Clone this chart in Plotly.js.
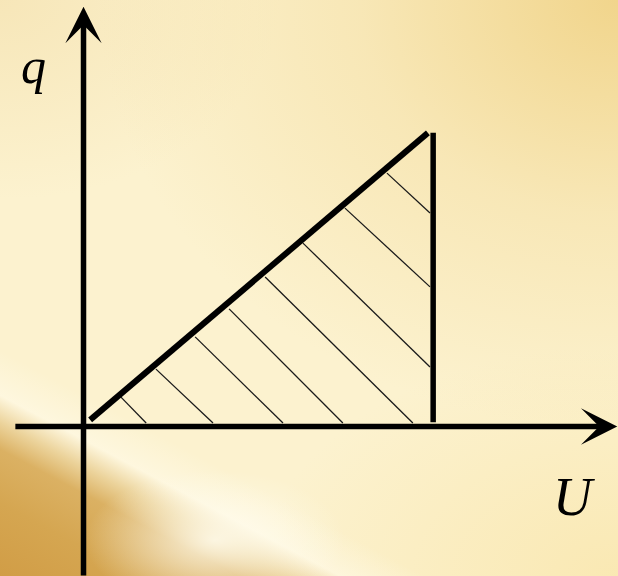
<!DOCTYPE html>
<html>
<head>
<meta charset="utf-8">
<script src="https://cdn.plot.ly/plotly-3.0.1.min.js"></script>
<style>
  html, body { margin: 0; padding: 0; width: 618px; height: 576px; overflow: hidden; }
  #bg {
    position: absolute; left: 0; top: 0; width: 618px; height: 576px;
    background:
      radial-gradient(ellipse 130px 70px at 215px 540px, rgba(255,252,238,0.85) 0%, rgba(255,252,238,0) 100%),
      linear-gradient(28deg, #d19d46 0%, #d5a651 8%, #dbb163 14%, rgba(234,208,150,0.9) 17%, rgba(255,250,232,0.6) 20%, rgba(255,250,232,0) 25%),
      radial-gradient(ellipse 520px 430px at 618px 0px, rgba(241,213,140,1) 0%, rgba(245,224,166,0.6) 50%, rgba(250,236,190,0) 100%),
      radial-gradient(ellipse 280px 200px at 0px 0px, rgba(246,229,182,0.9) 0%, rgba(250,238,200,0) 100%),
      radial-gradient(ellipse 360px 230px at 618px 576px, rgba(249,230,172,0.8) 0%, rgba(250,235,185,0) 100%),
      #fcf2cf;
  }
  #chart { position: absolute; left: 0; top: 0; width: 618px; height: 576px; }
</style>
</head>
<body>
<div id="bg"></div>
<div id="chart"></div>
<script>
// Diagram values (U on horizontal axis, q on vertical axis)
var diagU = [0.19, 9.84];
var diagQ = [0.19, 8.39];
var wallU = [9.99, 9.99];
var wallQ = [8.39, 0.12];

// Hatching: start on the slanted line, end on the U axis or the vertical line
var hatchStartU = [1.07, 2.07, 3.19, 4.16, 5.19, 6.27, 7.47, 8.67];
var hatchStartQ = [0.84, 1.64, 2.56, 3.36, 4.27, 5.24, 6.24, 7.24];
var hatchEndU   = [1.79, 3.70, 5.70, 7.41, 9.41, 9.90, 9.90, 9.90];
var hatchEndQ   = [0.10, 0.10, 0.10, 0.10, 0.10, 1.70, 3.99, 6.10];

// Axis extents
var uAxisFrom = -1.99, uAxisTip = 15.25;
var qAxisFrom = -4.30, qAxisTip = 11.99;
var xLabel = 'U', yLabel = 'q';

var hU = [], hQ = [];
for (var i = 0; i < hatchStartU.length; i++) {
  hU.push(hatchStartU[i], hatchEndU[i], null);
  hQ.push(hatchStartQ[i], hatchEndQ[i], null);
}

var traces = [
  { x: hU, y: hQ, mode: 'lines', line: { color: '#1a1a1a', width: 1.3 }, hoverinfo: 'skip', connectgaps: false },
  { x: diagU, y: diagQ, mode: 'lines', line: { color: '#000', width: 6 }, hoverinfo: 'skip' },
  { x: wallU, y: wallQ, mode: 'lines', line: { color: '#000', width: 5.5 }, hoverinfo: 'skip' }
];

var serif = 'Liberation Serif, Times New Roman, serif';
var layout = {
  width: 618, height: 576,
  margin: { l: 0, r: 0, t: 0, b: 0 },
  paper_bgcolor: 'rgba(0,0,0,0)',
  plot_bgcolor: 'rgba(0,0,0,0)',
  showlegend: false,
  xaxis: { range: [-2.386, 15.271], visible: false, fixedrange: true },
  yaxis: { range: [-4.271, 12.186], visible: false, fixedrange: true },
  annotations: [
    { x: uAxisTip, y: 0, ax: uAxisFrom, ay: 0, xref: 'x', yref: 'y', axref: 'x', ayref: 'y',
      text: '', showarrow: true, arrowhead: 3, arrowsize: 1.1, arrowwidth: 5.5, arrowcolor: '#000' },
    { x: 0, y: qAxisTip, ax: 0, ay: qAxisFrom, xref: 'x', yref: 'y', axref: 'x', ayref: 'y',
      text: '', showarrow: true, arrowhead: 3, arrowsize: 1.1, arrowwidth: 5.5, arrowcolor: '#000' },
    { x: -1.44, y: 10.3, xref: 'x', yref: 'y', text: yLabel, showarrow: false,
      font: { family: serif, size: 50, color: '#000', style: 'italic' } },
    { x: 14.0, y: -2.0, xref: 'x', yref: 'y', text: xLabel, showarrow: false,
      font: { family: serif, size: 54, color: '#000', style: 'italic' } }
  ]
};

Plotly.newPlot('chart', traces, layout, { staticPlot: true, displayModeBar: false });
</script>
</body>
</html>
